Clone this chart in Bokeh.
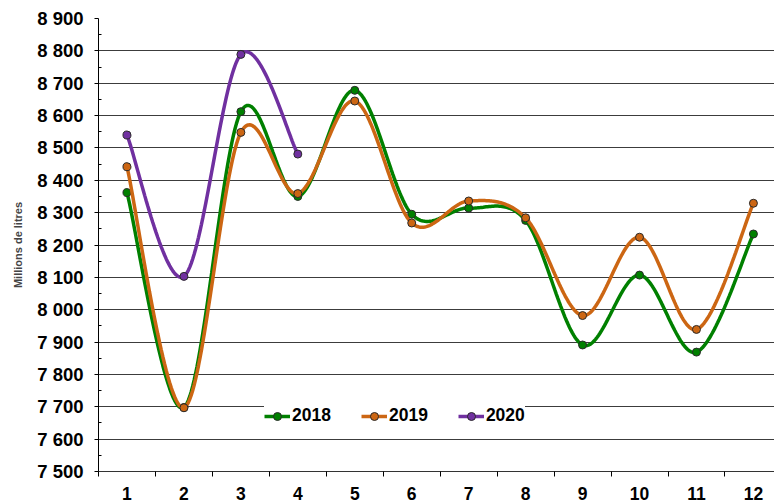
import numpy as np
from bokeh.plotting import figure
from bokeh.models import FixedTicker, Legend, LegendItem, Range1d
from bokeh.embed import file_html
from bokeh.resources import INLINE

# ---- data ----
months = list(range(1, 13))
months_2020 = [1, 2, 3, 4]
y2018 = [8362, 7698, 8612, 8350, 8678, 8295, 8314, 8276, 7891, 8107, 7869, 8234]
y2019 = [8442, 7697, 8548, 8359, 8645, 8268, 8336, 8284, 7982, 8224, 7939, 8329]
y2020 = [8540, 8103, 8789, 8481]
series_names = ["2018", "2019", "2020"]
colors = ["#008000", "#CC6613", "#7030A0"]
y_ticks = list(range(7500, 8901, 100))
y_minor = list(range(7550, 8900, 100))
y_tick_labels = {v: f"{v // 1000} {v % 1000:03d}" for v in y_ticks}
x_bounds = [m - 0.5 for m in months] + [12.5]

FONT = "Liberation Sans"


def smooth(xs, ys, n=40):
    """Bezier (Catmull-Rom style) smoothing through the points, like Excel smoothed lines."""
    pts = np.column_stack([np.asarray(xs, float), np.asarray(ys, float)])
    padded = np.vstack([pts[0], pts, pts[-1]])
    t = np.linspace(0, 1, n)[:, None]
    out = []
    for i in range(len(pts) - 1):
        p0, p1, p2, p3 = padded[i], padded[i + 1], padded[i + 2], padded[i + 3]
        c1 = p1 + (p2 - p0) / 6.0
        c2 = p2 - (p3 - p1) / 6.0
        seg = ((1 - t) ** 3) * p1 + 3 * ((1 - t) ** 2) * t * c1 + 3 * (1 - t) * t ** 2 * c2 + t ** 3 * p2
        out.append(seg if i == 0 else seg[1:])
    arr = np.vstack(out)
    return arr[:, 0], arr[:, 1]


p = figure(width=774, height=504, output_backend="svg", toolbar_location=None,
           x_range=Range1d(0.5, 12.37), y_range=Range1d(7500, 8900),
           min_border_left=98, min_border_right=0, min_border_top=18, min_border_bottom=33,
           background_fill_color="white", border_fill_color="white")
p.outline_line_color = None

# axes
p.yaxis.ticker = FixedTicker(ticks=y_ticks, minor_ticks=y_minor)
p.yaxis.major_label_overrides = y_tick_labels
p.yaxis.major_label_text_font = FONT
p.yaxis.major_label_text_font_style = "bold"
p.yaxis.major_label_text_font_size = "18.5px"
p.yaxis.major_label_text_color = "black"
p.yaxis.major_label_standoff = 11
p.yaxis.major_tick_out = 4
p.yaxis.major_tick_in = 0
p.yaxis.minor_tick_out = 0
p.yaxis.minor_tick_in = 3
p.yaxis.axis_line_color = "black"
p.yaxis.major_tick_line_color = "black"
p.yaxis.minor_tick_line_color = "black"
p.yaxis.axis_label = "Millions de litres"
p.yaxis.axis_label_text_font = FONT
p.yaxis.axis_label_text_font_style = "bold"
p.yaxis.axis_label_text_font_size = "11px"
p.yaxis.axis_label_standoff = 10

p.xaxis.ticker = FixedTicker(ticks=months, minor_ticks=x_bounds)
p.xaxis.major_label_text_font = FONT
p.xaxis.major_label_text_font_style = "bold"
p.xaxis.major_label_text_font_size = "17.5px"
p.xaxis.major_label_text_color = "black"
p.xaxis.major_label_standoff = 10
p.xaxis.major_tick_out = 0
p.xaxis.major_tick_in = 0
p.xaxis.minor_tick_out = 5
p.xaxis.minor_tick_in = 0
p.xaxis.axis_line_color = "#333333"
p.xaxis.minor_tick_line_color = "black"

p.xgrid.visible = False
p.ygrid.ticker = FixedTicker(ticks=y_ticks)
p.ygrid.grid_line_color = "#3c3c3c"
p.ygrid.grid_line_width = 1

items = []
for name, xs, ys, col in zip(series_names, [months, months, months_2020], [y2018, y2019, y2020], colors):
    sx, sy = smooth(xs, ys)
    ln = p.line(sx, sy, line_color=col, line_width=3.5)
    sc = p.scatter(xs, ys, size=8, fill_color=col, line_color="#2a2a2a", line_width=1)
    items.append(LegendItem(label=name, renderers=[ln, sc]))

legend = Legend(items=items, orientation="horizontal", location=(166, 45),
                background_fill_color="white", background_fill_alpha=1.0,
                border_line_color=None, label_text_font=FONT, label_text_font_style="bold",
                label_text_font_size="17.5px", label_text_color="black",
                glyph_width=26, glyph_height=20, label_standoff=2, spacing=30, padding=10)
p.add_layout(legend)

open("out.html", "w").write(file_html(p, INLINE))
